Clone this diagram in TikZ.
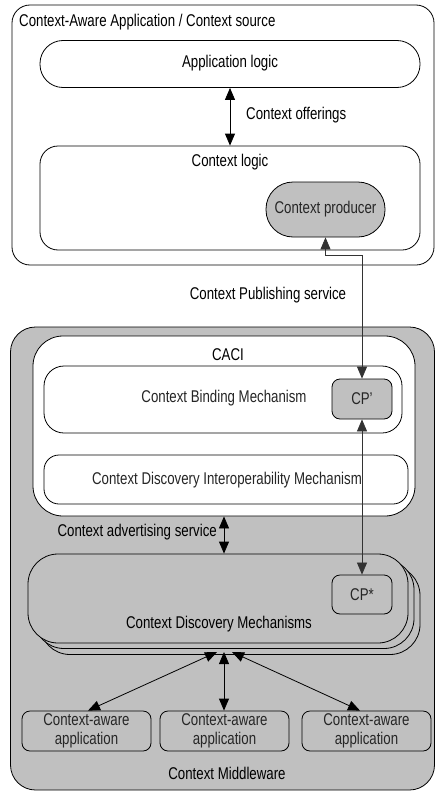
\documentclass[tikz,border=0pt]{standalone}
\usepackage{fontspec}
\setmainfont{Liberation Sans}[FakeStretch=0.78]
\usetikzlibrary{arrows.meta,calc}
\definecolor{boxgray}{RGB}{192,192,192}
\begin{document}
\begin{tikzpicture}[x=1pt,y=-1pt,
  every node/.style={font=\fontsize{17}{20}\selectfont, inner sep=0pt},
  box/.style={draw=black, line width=0.8pt, fill=white},
  graybox/.style={draw=black, line width=0.8pt, fill=boxgray},
  light/.style={text=black!85},
  conn/.style={line width=0.8pt, {Triangle[length=12pt,width=10pt]}-{Triangle[length=12pt,width=10pt]}},
  conng/.style={line width=0.7pt, draw=black!80, {Triangle[length=12pt,width=10pt]}-{Triangle[length=12pt,width=10pt]}},
  appbox/.style={draw=black, line width=0.8pt, rounded corners=8pt, minimum width=129pt, minimum height=40pt, align=center, light, font=\fontsize{17}{18.5}\selectfont}
]
\useasboundingbox (0,0) rectangle (436,792);

% ---------- top: application / context source ----------
\node[box, rounded corners=18pt, minimum width=422pt, minimum height=260pt] (top) at (223,135) {};
\node[anchor=west] (toptitle) at (19,22) {Context-Aware Application / Context source};

\node[box, rounded corners=23pt, minimum width=380pt, minimum height=47pt] (app) at (230,64) {};
\node (applbl) at (230,63) {Application logic};

\node[box, rounded corners=18pt, minimum width=380pt, minimum height=104pt] (ctxl) at (230,198) {};
\node (ctxllbl) at (230,162) {Context logic};

\node[graybox, rounded corners=27pt, minimum width=119pt, minimum height=55pt, light] (prod) at (325.5,209.5) {Context producer};

\draw[conn] (app.south) -- (ctxl.north);
\node[anchor=west] (offer) at (246,115) {Context offerings};

\node (pub) at (268,295) {Context Publishing service};

% ---------- bottom: middleware ----------
\node[graybox, rounded corners=25pt, minimum width=424pt, minimum height=463pt] (mw) at (222.5,558.5) {};
\node (mwlbl) at (227,773) {Context Middleware};

\node[box, rounded corners=30pt, minimum width=382pt, minimum height=180pt] (caci) at (224,426) {};
\node (cacilbl) at (228,355) {CACI};

\node[box, rounded corners=20pt, minimum width=358pt, minimum height=67pt] (bind) at (223,399.5) {};
\node[light] (bindlbl) at (224,398) {Context Binding Mechanism};
\node[graybox, rounded corners=8pt, minimum width=60pt, minimum height=40pt, light] (cpp) at (362,399) {CP'};

\node[box, rounded corners=15pt, minimum width=364pt, minimum height=49pt] (cdim) at (226,479.5) {};
\node[light] (cdimlbl) at (227,480) {Context Discovery Interoperability Mechanism};

% stacked discovery mechanisms
\node[graybox, rounded corners=30pt, minimum width=380pt, minimum height=89pt] (cdm2) at (230,610) {};
\node[graybox, rounded corners=30pt, minimum width=380pt, minimum height=89pt] (cdm1) at (224,604) {};
\node[graybox, rounded corners=30pt, minimum width=380pt, minimum height=89pt] (cdm) at (218,598.5) {};
\node (cdmlbl) at (219,624) {Context Discovery Mechanisms};
\node[draw=black, line width=0.8pt, rounded corners=8pt, minimum width=60pt, minimum height=39pt, light] (cps) at (362,594.5) {CP*};

% connectors
\coordinate (bend) at (362,255);
\draw[conng] (prod.south) |- (bend) -- (cpp.north);
\draw[conng] (cpp.south) -- (cps.north);
\draw[conn] (caci.south) -- (caci.south |- cdm.north);
\node[anchor=east] (adv) at (217,532) {Context advertising service};

% applications
\node[appbox] (appL) at (86.5,731) {Context-aware\\application};
\node[appbox] (appM) at (224.5,731) {Context-aware\\application};
\node[appbox] (appR) at (366.5,731) {Context-aware\\application};

\coordinate (hubL) at (217,652);
\coordinate (hubM) at (224,652);
\coordinate (hubR) at (232,652);
\draw[conn] (hubL) -- ($(appL.north)+(1.5,0)$);
\draw[conn] (hubM) -- (hubM |- appM.north);
\draw[conn] (hubR) -- ($(appR.north)+(-6.5,0)$);
\end{tikzpicture}
\end{document}
